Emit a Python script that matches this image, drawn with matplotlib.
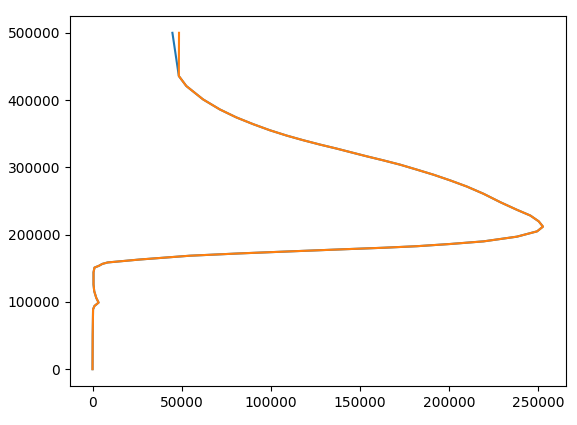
import matplotlib
matplotlib.use("Agg")
import matplotlib.pyplot as plt

altitude = [0, 50000, 89000, 94000, 99000, 106000, 116000, 126000, 144000, 151000,
            153700, 156500, 158650, 163000, 168650, 172100, 175100, 178500, 180500,
            182800, 186100, 190000, 197000, 204900, 211900, 219800, 228400, 236900,
            248200, 260700, 271500, 280600, 289100, 296600, 304000, 310400, 316400,
            321000, 327900, 333900, 340300, 347300, 355200, 364200, 374200, 386100,
            401000, 420900, 435800, 500000]

density_common = [0, 100, 300, 1100, 3400, 2100, 950, 560, 560, 1100,
                  3600, 5500, 8500, 26400, 54500, 82600, 110700, 143300, 163100,
                  181900, 200600, 219300, 238000, 249300, 252600, 250200, 245500, 238000,
                  228700, 219300, 209900, 200600, 191200, 181900, 172500, 163100, 153800,
                  147000, 136900, 127500, 118200, 108800, 99400, 90100, 80700, 71400,
                  62000, 52600, 48400]

density_a = density_common + [44800]
density_b = density_common + [48500]

fig = plt.figure(figsize=(5.77, 4.25), dpi=100)
ax = fig.add_axes([70/577, 1-386/425, (565.5-70)/577, (386-16)/425])
ax.plot(density_a, altitude)
ax.plot(density_b, altitude)
fig.savefig("out.png", dpi=100)
